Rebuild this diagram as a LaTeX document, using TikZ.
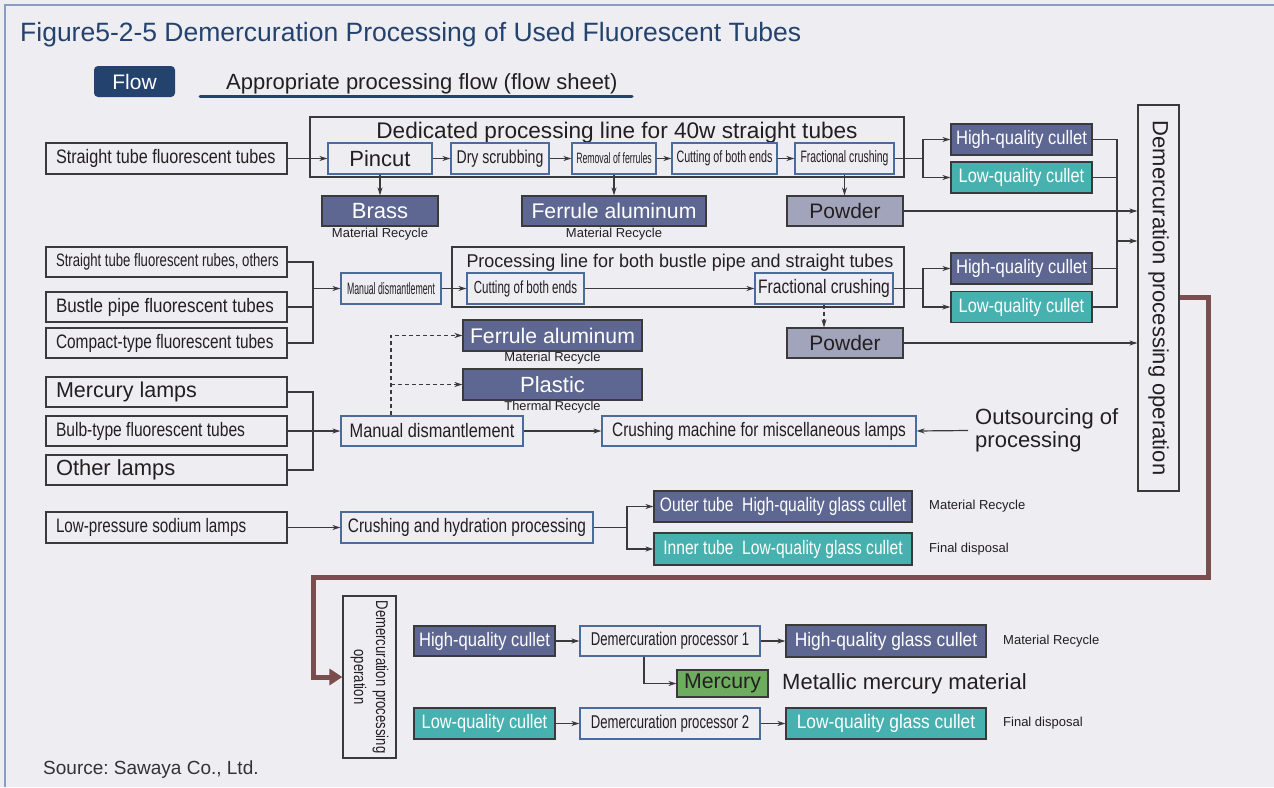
\documentclass[tikz,border=0pt]{standalone}
\usepackage{fontspec}
\setmainfont{Liberation Sans}
\usepackage{graphicx}
\usetikzlibrary{arrows.meta}
\frenchspacing

\definecolor{pagebg}{HTML}{EDEDF2}
\definecolor{framec}{HTML}{8A9CC4}
\definecolor{navy}{HTML}{24426E}
\definecolor{ink}{HTML}{231F20}
\definecolor{edge}{HTML}{3A3A3A}
\definecolor{procblue}{HTML}{4A6B9B}
\definecolor{slate}{HTML}{5E6791}
\definecolor{cullteal}{HTML}{47B1AF}
\definecolor{powderc}{HTML}{A2A4BC}
\definecolor{mercg}{HTML}{6EAD5F}
\definecolor{brownc}{HTML}{7A4D4F}

\newcommand{\sqz}[3]{{\fontsize{#1}{#1}\selectfont\spaceskip=0pt\xspaceskip=0pt\scalebox{#2}[1]{#3}}}

\begin{document}
\begin{tikzpicture}[x=1pt,y=-1pt,>={Stealth[length=8pt,width=5pt]}]
  \tikzstyle{every node} = [inner sep=0pt, text=ink]
  \tikzstyle{plainbox} = [draw=edge, line width=1.2pt, minimum height=31pt]
  \tikzstyle{srcbox} = [plainbox, text width=221pt, align=left, inner xsep=10pt]
  \tikzstyle{procbox} = [plainbox, draw=procblue]
  \tikzstyle{slatebox} = [plainbox, fill=slate, text=white]
  \tikzstyle{tealbox} = [plainbox, fill=cullteal, text=white]
  \tikzstyle{powderbox} = [plainbox, fill=powderc, minimum height=30pt]
  \tikzstyle{mercbox} = [plainbox, fill=mercg, minimum height=27pt]
\tikzset{link/.style={draw=edge, line width=1.2pt}}
\tikzset{dlink/.style={link, dashed, dash pattern=on 4pt off 3pt}}
\tikzset{brownline/.style={draw=brownc, line width=5pt,
  -{Triangle[length=13pt,width=16pt]}}}

\fill[pagebg] (0,0) rectangle (1274,787);
\useasboundingbox (0,0) rectangle (1274,787);
\draw[framec, line width=1.5pt] (5,787) -- (5,5) -- (1274,5);

\node[anchor=base west, text=navy] (title) at (20,41)
  {\sqz{26.5}{1}{Figure5-2-5 Demercuration Processing of Used Fluorescent Tubes}};
\node[fill=navy, rounded corners=4pt, minimum width=81pt, minimum height=31pt,
  text=white] (flow) at (134.5,81.5) {\sqz{21}{1}{Flow}};
\node[anchor=base west] (sheet) at (226,89)
  {\sqz{22}{1}{Appropriate processing flow (flow sheet)}};
\draw[navy, line width=3pt, line cap=round] (200,96) -- (632,96);

% dedicated line
\draw[edge, line width=1.2pt] (310,117) rectangle (904,177);
\node[anchor=base] (line1) at (617,138)
  {\sqz{22.6}{1}{Dedicated processing line for 40w straight tubes}};
\node[srcbox] (stt) at (166.5,158.5)
  {\sqz{19.5}{0.83}{Straight tube fluorescent tubes}};
\node[procbox, minimum width=104pt] (pincut) at (380,158.5) {\sqz{22}{1}{Pincut}};
\node[procbox, minimum width=98pt] (dry) at (500,158.5) {\sqz{18.5}{0.76}{Dry scrubbing}};
\node[procbox, minimum width=84pt] (rmf) at (614,158.5) {\sqz{15}{0.58}{Removal of ferrules}};
\node[procbox, minimum width=105pt] (cut1) at (724.5,158.5) {\sqz{16.5}{0.65}{Cutting of both ends}};
\node[procbox, minimum width=99pt] (frc1) at (844.5,158.5) {\sqz{16.5}{0.63}{Fractional crushing}};
\node[slatebox, minimum width=116pt, minimum height=30pt] (brass) at (380,211)
  {\sqz{22}{1}{Brass}};
\node[slatebox, minimum width=184pt, minimum height=30pt] (fal1) at (614,211)
  {\sqz{21.2}{1}{Ferrule aluminum}};
\node[powderbox, minimum width=116pt] (pow1) at (845,211) {\sqz{21}{1}{Powder}};
\node (mr1) at (380,234) {\sqz{13}{1}{Material Recycle}};
\node (mr2) at (614,234) {\sqz{13}{1}{Material Recycle}};
\node[slatebox, minimum width=141pt] (hq1) at (1021.5,139.5) {\sqz{19.5}{0.85}{High-quality cullet}};
\node[tealbox, minimum width=141pt] (lq1) at (1021.5,177.5) {\sqz{19.5}{0.84}{Low-quality cullet}};

% both line
\draw[edge, line width=1.2pt] (452,247) rectangle (904,307);
\node[anchor=base] (line2) at (680,267.5)
  {\sqz{18.5}{0.97}{Processing line for both bustle pipe and straight tubes}};
\node[srcbox, minimum height=30pt] (sto) at (166.5,262)
  {\sqz{18}{0.73}{Straight tube fluorescent rubes, others}};
\node[srcbox, minimum height=30pt] (bpf) at (166.5,307)
  {\sqz{19.5}{0.87}{Bustle pipe fluorescent tubes}};
\node[srcbox, minimum height=30pt] (cpt) at (166.5,343)
  {\sqz{19.5}{0.79}{Compact-type fluorescent tubes}};
\node[procbox, minimum width=100pt] (md1) at (391,288.5) {\sqz{16.5}{0.53}{Manual dismantlement}};
\node[procbox, minimum width=117pt] (cut2) at (525.5,288.5) {\sqz{17.5}{0.66}{Cutting of both ends}};
\node[procbox, minimum width=138pt] (frc2) at (824,288.5) {\sqz{19.5}{0.8}{Fractional crushing}};
\node[powderbox, minimum width=116pt] (pow2) at (845,343) {\sqz{21}{1}{Powder}};
\node[slatebox, minimum width=141pt] (hq2) at (1021.5,268.5) {\sqz{19.5}{0.85}{High-quality cullet}};
\node[tealbox, minimum width=141pt] (lq2) at (1021.5,307) {\sqz{19.5}{0.84}{Low-quality cullet}};

\node[plainbox, minimum width=41pt, minimum height=386pt] (demerc) at (1158.5,298) {};
\node[rotate=-90] (demtxt) at (demerc.center)
  {\sqz{22}{1}{Demercuration processing operation}};

% lamps
\node[slatebox, minimum width=179pt] (fal2) at (552.5,335.5) {\sqz{21.2}{1}{Ferrule aluminum}};
\node[slatebox, minimum width=179pt] (plastic) at (552.5,384.5) {\sqz{22}{1}{Plastic}};
\node (mr3) at (552.5,358) {\sqz{13}{1}{Material Recycle}};
\node (tr1) at (552.5,407) {\sqz{12.8}{1}{Thermal Recycle}};
\node[srcbox, minimum height=30pt] (mlamp) at (166.5,392)
  {\sqz{21.5}{1}{Mercury lamps}};
\node[srcbox, minimum height=30pt] (bulb) at (166.5,431)
  {\sqz{19.5}{0.8}{Bulb-type fluorescent tubes}};
\node[srcbox, minimum height=30pt] (other) at (166.5,470)
  {\sqz{21.9}{1}{Other lamps}};
\node[procbox, minimum width=182pt, minimum height=30pt] (md2) at (432,431)
  {\sqz{19.5}{0.84}{Manual dismantlement}};
\node[procbox, minimum width=314pt, minimum height=30pt] (crush) at (759,431)
  {\sqz{19.5}{0.79}{Crushing machine for miscellaneous lamps}};
\node[anchor=west, align=left, inner xsep=7pt, font=\fontsize{22}{23}\selectfont]
  (outs) at (968,430.5) {Outsourcing of\\processing};

% sodium
\node[srcbox] (lps) at (166.5,527.5)
  {\sqz{19.5}{0.78}{Low-pressure sodium lamps}};
\node[procbox, minimum width=252pt] (chp) at (467,527.5)
  {\sqz{19.5}{0.79}{Crushing and hydration processing}};
\node[slatebox, minimum width=258pt] (outer) at (783,506.5)
  {\sqz{19.5}{0.8}{Outer tube\ \ High-quality glass cullet}};
\node[tealbox, minimum width=258pt, minimum height=32pt] (inner) at (783,549)
  {\sqz{19.5}{0.8}{Inner tube\ \ Low-quality glass cullet}};
\node[anchor=west] (mr4) at (929,506.5) {\sqz{13}{1}{Material Recycle}};
\node[anchor=west] (fd1) at (929,549) {\sqz{13}{1}{Final disposal}};

% demercuration
\node[plainbox, minimum width=53pt, minimum height=162pt] (dm2) at (369.5,677) {};
\node[rotate=-90, align=center, font=\fontsize{17}{22}\selectfont] (dm2txt) at (dm2.center)
  {\scalebox{0.77}[1]{Demercuration processing}\\\scalebox{0.77}[1]{operation}};
\node[slatebox, minimum width=141pt, minimum height=30pt] (hqc) at (484.5,641)
  {\sqz{19.5}{0.85}{High-quality cullet}};
\node[procbox, minimum width=180pt, minimum height=30pt] (dp1) at (670,641)
  {\sqz{18.5}{0.71}{Demercuration processor 1}};
\node[slatebox, minimum width=200pt, minimum height=32pt] (hgc) at (886,641)
  {\sqz{19.5}{0.89}{High-quality glass cullet}};
\node[mercbox, minimum width=91pt] (merc) at (722.5,683.5) {\sqz{21.3}{1}{Mercury}};
\node[anchor=west] (mmm) at (782,684) {\sqz{22}{1}{Metallic mercury material}};
\node[tealbox, minimum width=141pt] (lqc) at (484.5,723.5)
  {\sqz{19.5}{0.84}{Low-quality cullet}};
\node[procbox, minimum width=180pt] (dp2) at (670,723.5)
  {\sqz{18.5}{0.71}{Demercuration processor 2}};
\node[tealbox, minimum width=200pt] (lgc) at (886,723.5)
  {\sqz{19.5}{0.89}{Low-quality glass cullet}};
\node[anchor=west] (mr5) at (1003,641) {\sqz{13}{1}{Material Recycle}};
\node[anchor=west] (fd2) at (1003,723.5) {\sqz{13}{1}{Final disposal}};

\node[anchor=base west, text=black!80] (src) at (43,774)
  {\sqz{19}{1}{Source: Sawaya Co., Ltd.}};

% connectors
\coordinate (b1) at (923,158.5);
\coordinate (b2) at (923,288.5);
\coordinate (bus) at (1117,241);
\coordinate (j2) at (313,288.5);
\coordinate (j3) at (313,431);
\coordinate (dj) at (391,335.5);
\coordinate (b3) at (627,527.5);
\coordinate (mj) at (644,683.5);
\coordinate (rb) at (1208,577);
\coordinate (lb) at (313,577);

\draw[link,->] (stt) -- (pincut);
\draw[link,->] (pincut) -- (dry);
\draw[link,->] (dry) -- (rmf);
\draw[link,->] (rmf) -- (cut1);
\draw[link,->] (cut1) -- (frc1);
\draw[link,->] (pincut) -- (brass);
\draw[link,->] (rmf) -- (fal1);
\draw[link,->] (frc1.south) -- (frc1.south |- pow1.north);
\draw[link] (frc1) -- (b1);
\draw[link,->] (b1) |- (hq1);
\draw[link,->] (b1) |- (lq1);

\draw[link] (sto) -| (j2);
\draw[link] (bpf) -| (j2);
\draw[link] (cpt) -| (j2);
\draw[link,->] (j2) -- (md1);
\draw[link,->] (md1) -- (cut2);
\draw[link,->] (cut2) -- (frc2);
\draw[dlink,->] (frc2.south) -- (frc2.south |- pow2.north);
\draw[link] (frc2) -- (b2);
\draw[link,->] (b2) |- (hq2);
\draw[link,->] (b2) |- (lq2);

\draw[link] (hq1) -| (bus);
\draw[link] (lq1) -| (bus);
\draw[link] (hq2) -| (bus);
\draw[link] (lq2) -| (bus);
\draw[link,->] (bus) -- (bus -| demerc.west);
\draw[link,->] (pow1) -- (pow1 -| demerc.west);
\draw[link,->] (pow2) -- (pow2 -| demerc.west);

\draw[link] (mlamp) -| (j3);
\draw[link] (bulb) -| (j3);
\draw[link] (other) -| (j3);
\draw[link,->] (j3) -- (md2);
\draw[link,->] (md2) -- (crush);
\draw[link,->] (outs.west) -- (crush.east);
\draw[dlink,->] (md2.north -| dj) |- (fal2);
\draw[dlink,->] (dj |- plastic) -- (plastic);

\draw[link,->] (lps) -- (chp);
\draw[link] (chp) -- (b3);
\draw[link,->] (b3) |- (outer);
\draw[link,->] (b3) |- (inner);

\draw[brownline] (demerc.east |- 0,297) -| (rb) -- (lb) |- (dm2.west);

\draw[link,->] (hqc) -- (dp1);
\draw[link,->] (dp1) -- (hgc);
\draw[link,->] (lqc) -- (dp2);
\draw[link,->] (dp2) -- (lgc);
\draw[link,->] (mj |- dp1.south) |- (merc);

\end{tikzpicture}
\end{document}
